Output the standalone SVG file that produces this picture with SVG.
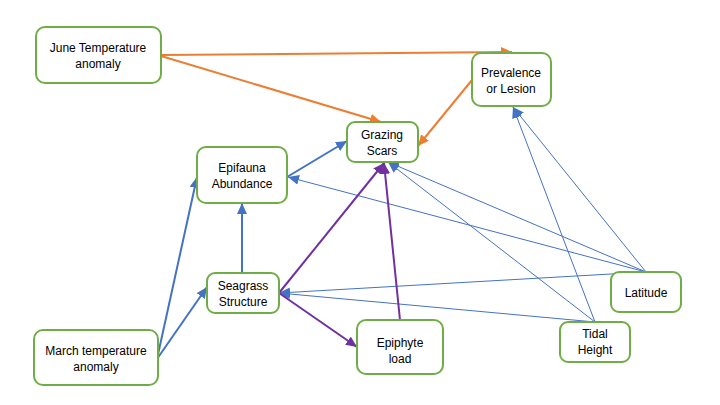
<svg xmlns="http://www.w3.org/2000/svg" width="720" height="405" viewBox="0 0 720 405">
<defs>
<marker id="aO" markerUnits="userSpaceOnUse" markerWidth="12" markerHeight="10" refX="11" refY="5" orient="auto"><path d="M0,0 L11,5 L0,10 z" fill="#ED7D31"/></marker>
<marker id="aB" markerUnits="userSpaceOnUse" markerWidth="12" markerHeight="10" refX="11" refY="5" orient="auto"><path d="M0,0 L11,5 L0,10 z" fill="#4472C4"/></marker>
<marker id="aP" markerUnits="userSpaceOnUse" markerWidth="12" markerHeight="10" refX="11" refY="5" orient="auto"><path d="M0,0 L11,5 L0,10 z" fill="#7030A0"/></marker>
</defs>
<style>
.box{fill:#fff;stroke:#70AD47;stroke-width:2}
text{font-family:"Liberation Sans",Arial,sans-serif;font-size:12px;fill:#000;text-anchor:middle}
.o{stroke:#ED7D31;stroke-width:2;fill:none;marker-end:url(#aO)}
.b{stroke:#4472C4;stroke-width:2;fill:none;marker-end:url(#aB)}
.bt{stroke:#4472C4;stroke-width:1;fill:none;marker-end:url(#aB)}
.p{stroke:#7030A0;stroke-width:2;fill:none;marker-end:url(#aP)}
</style>
<rect width="720" height="405" fill="#fff"/>
<g id="connectors">
<line class="bt" x1="646" y1="272" x2="388" y2="162"/>
<line class="bt" x1="646" y1="272" x2="513" y2="107"/>
<line class="bt" x1="646" y1="272" x2="288" y2="177"/>
<line class="bt" x1="646" y1="272" x2="279" y2="293"/>
<line class="bt" x1="595" y1="322" x2="388" y2="162"/>
<line class="bt" x1="595" y1="322" x2="513" y2="107"/>
<line class="bt" x1="595" y1="322" x2="279" y2="293"/>
<line class="o" x1="161" y1="55" x2="512" y2="52"/>
<line class="o" x1="161" y1="56" x2="381" y2="122"/>
<line class="o" x1="472" y1="80" x2="418" y2="146"/>
<line class="b" x1="157" y1="359" x2="197" y2="177"/>
<line class="b" x1="157" y1="359" x2="207" y2="287"/>
<line class="b" x1="242" y1="273" x2="242" y2="203"/>
<line class="b" x1="287" y1="177" x2="347" y2="141"/>
<line class="p" x1="279" y1="293" x2="384" y2="163"/>
<line class="p" x1="279" y1="293" x2="357" y2="347"/>
<line class="p" x1="400" y1="320" x2="384" y2="163"/>
</g>
<g id="june"><rect class="box" x="36" y="27" width="125" height="56" rx="9"/><text x="98" y="52">June Temperature</text><text x="98" y="68">anomaly</text></g>
<g id="prevalence"><rect class="box" x="472" y="53" width="79" height="53" rx="9"/><text x="511" y="77">Prevalence</text><text x="511" y="93">or Lesion</text></g>
<g id="grazing"><rect class="box" x="347" y="122" width="71" height="40" rx="8"/><text x="382" y="139">Grazing</text><text x="382" y="155">Scars</text></g>
<g id="epifauna"><rect class="box" x="197" y="147" width="90" height="56" rx="9"/><text x="242" y="172">Epifauna</text><text x="242" y="188">Abundance</text></g>
<g id="seagrass"><rect class="box" x="207" y="273" width="72" height="40" rx="8"/><text x="243" y="290">Seagrass</text><text x="243" y="306">Structure</text></g>
<g id="march"><rect class="box" x="34" y="330" width="124" height="55" rx="9"/><text x="96" y="355">March temperature</text><text x="96" y="371">anomaly</text></g>
<g id="epiphyte"><rect class="box" x="357" y="320" width="86" height="54" rx="9"/><text x="400" y="347">Epiphyte</text><text x="400" y="363">load</text></g>
<g id="latitude"><rect class="box" x="611" y="272" width="70" height="40" rx="8"/><text x="646" y="297">Latitude</text></g>
<g id="tidal"><rect class="box" x="560" y="322" width="70" height="40" rx="8"/><text x="595" y="338">Tidal</text><text x="595" y="354">Height</text></g>
</svg>
